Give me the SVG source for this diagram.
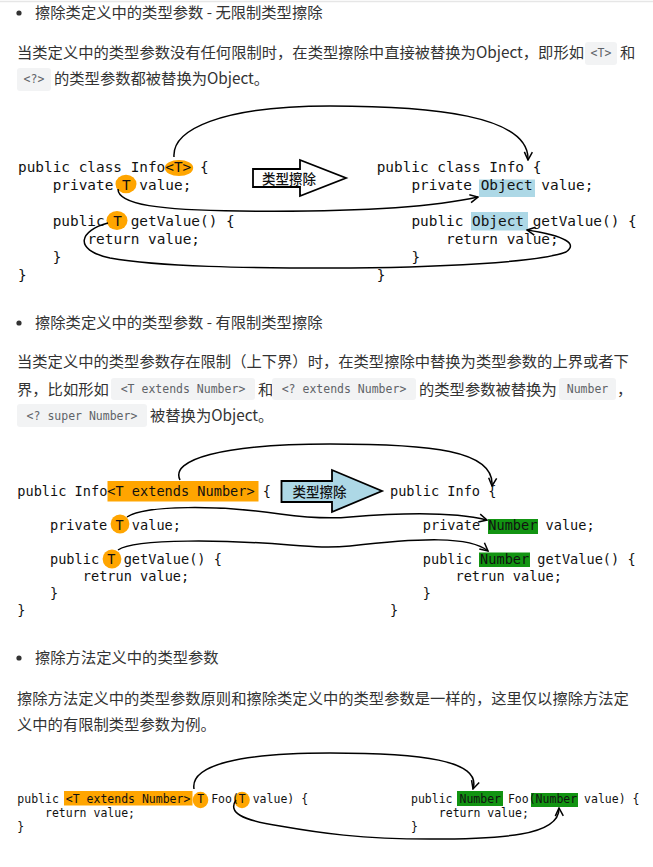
<svg xmlns="http://www.w3.org/2000/svg" width="653" height="867" viewBox="0 0 653 867">
<defs>
<style>
.p{font-family:"Noto Sans CJK SC","Noto Sans",sans-serif;font-size:15.3px;fill:#333}
.chip{fill:#f2f3f4}
.ct{font-family:"DejaVu Sans Mono","Liberation Mono",monospace;font-size:11.5px;fill:#5f6368;text-anchor:middle}
.c1{font-family:"DejaVu Sans Mono",monospace;font-size:14.4px;fill:#111}
.c2{font-family:"DejaVu Sans Mono",monospace;font-size:13.6px;fill:#111}
.c3{font-family:"DejaVu Sans Mono",monospace;font-size:11.5px;fill:#111}
.or{fill:#ffa500}
.bl{fill:#add8e6}
.gr{fill:#129412}
.ba{stroke:#000;stroke-width:1.8;stroke-linejoin:miter}
.bt{font-family:"Noto Sans CJK SC",sans-serif;font-size:13.5px;fill:#111;font-weight:500}
.cn{fill:none;stroke:#000;stroke-width:1.5;marker-end:url(#ah)}
</style>
<marker id="ah" viewBox="0 0 10 10" refX="9" refY="5" markerWidth="10" markerHeight="10" markerUnits="userSpaceOnUse" orient="auto">
<path d="M1,1 L9,5 L1,9" fill="none" stroke="#000" stroke-width="1.5"/>
</marker>
</defs>
<rect width="653" height="867" fill="#fff"/>
<line x1="0" y1="1.5" x2="653" y2="1.5" stroke="#e6e6e6" stroke-width="1.5"/>

<g id="section1-text">
<circle cx="19" cy="13" r="2.6" fill="#333"/>
<text class="p" x="35" y="18">擦除类定义中的类型参数 - 无限制类型擦除</text>
<text class="p" x="17" y="58">当类定义中的类型参数没有任何限制时，在类型擦除中直接被替换为Object，即形如</text>
<rect class="chip" x="585" y="42" width="32" height="23" rx="3"/>
<text class="ct" x="601" y="57">&lt;T&gt;</text>
<text class="p" x="620" y="58">和</text>
<rect class="chip" x="17" y="68" width="34" height="23" rx="3"/>
<text class="ct" x="34" y="83">&lt;?&gt;</text>
<text class="p" x="54" y="84">的类型参数都被替换为Object。</text>
</g>

<g id="diagram1-left">
<ellipse class="or" cx="179" cy="168" rx="14.2" ry="8"/>
<ellipse class="or" cx="126" cy="184" rx="10.5" ry="9.3"/>
<ellipse class="or" cx="117" cy="220.5" rx="10.5" ry="9.5"/>
<text class="c1" x="18" y="172">public class Info&lt;T&gt; {</text>
<text class="c1" x="52.7" y="190">private T value;</text>
<text class="c1" x="52.7" y="226">public T getValue() {</text>
<text class="c1" x="87.4" y="244">return value;</text>
<text class="c1" x="52.7" y="262">}</text>
<text class="c1" x="18" y="280">}</text>
</g>
<g id="diagram1-arrow">
<polygon class="ba" fill="#fff" points="253,169 300,169 300,160 346,178 300,196 300,187 253,187"/>
<text class="bt" x="262" y="183.5">类型擦除</text>
</g>
<g id="diagram1-right">
<rect class="bl" x="479" y="179.5" width="56" height="17.5"/>
<rect class="bl" x="471" y="212" width="57" height="18.5"/>
<text class="c1" x="376.7" y="172">public class Info {</text>
<text class="c1" x="411.4" y="190">private Object value;</text>
<text class="c1" x="411.4" y="226">public Object getValue() {</text>
<text class="c1" x="446" y="244">return value;</text>
<text class="c1" x="411.4" y="262">}</text>
<text class="c1" x="376.7" y="280">}</text>
</g>

<g id="section2-text">
<circle cx="19" cy="323" r="2.6" fill="#333"/>
<text class="p" x="35" y="328">擦除类定义中的类型参数 - 有限制类型擦除</text>
<text class="p" x="17" y="367">当类定义中的类型参数存在限制（上下界）时，在类型擦除中替换为类型参数的上界或者下</text>
<text class="p" x="17" y="395">界，比如形如</text>
<rect class="chip" x="111" y="378" width="144" height="22" rx="3"/>
<text class="ct" x="183" y="393">&lt;T extends Number&gt;</text>
<text class="p" x="258" y="395">和</text>
<rect class="chip" x="272" y="378" width="144" height="22" rx="3"/>
<text class="ct" x="344" y="393">&lt;? extends Number&gt;</text>
<text class="p" x="419" y="395">的类型参数被替换为</text>
<rect class="chip" x="559" y="378" width="57" height="22" rx="3"/>
<text class="ct" x="587.5" y="393">Number</text>
<text class="p" x="617" y="395">，</text>
<rect class="chip" x="17" y="404" width="130" height="23" rx="3"/>
<text class="ct" x="82" y="419.5">&lt;? super Number&gt;</text>
<text class="p" x="150" y="421">被替换为Object。</text>
</g>

<g id="diagram2-left">
<rect class="or" x="107.5" y="481" width="151" height="20.5"/>
<circle class="or" cx="120" cy="524" r="9.4"/>
<circle class="or" cx="112" cy="559" r="9.4"/>
<text class="c2" x="17.3" y="496">public Info&lt;T extends Number&gt; {</text>
<text class="c2" x="50" y="530">private T value;</text>
<text class="c2" x="50" y="564">public T getValue() {</text>
<text class="c2" x="82.8" y="581">retrun value;</text>
<text class="c2" x="50" y="598">}</text>
<text class="c2" x="17.3" y="615">}</text>
</g>
<g id="diagram2-arrow">
<polygon class="ba" fill="#add8e6" points="281.5,481 332,481 332,470 382,491 332,512 332,502 281.5,502"/>
<text class="bt" x="292.5" y="496.5">类型擦除</text>
</g>
<g id="diagram2-right">
<rect class="gr" x="488" y="519" width="50" height="15"/>
<rect class="gr" x="479" y="552.5" width="51" height="14.5"/>
<text class="c2" x="390" y="496">public Info {</text>
<text class="c2" x="422.8" y="530">private Number value;</text>
<text class="c2" x="422.8" y="564">public Number getValue() {</text>
<text class="c2" x="455.5" y="581">retrun value;</text>
<text class="c2" x="422.8" y="598">}</text>
<text class="c2" x="390" y="615">}</text>
</g>

<g id="section3-text">
<circle cx="19" cy="658" r="2.6" fill="#333"/>
<text class="p" x="35" y="663">擦除方法定义中的类型参数</text>
<text class="p" x="17" y="704">擦除方法定义中的类型参数原则和擦除类定义中的类型参数是一样的，这里仅以擦除方法定</text>
<text class="p" x="17" y="730">义中的有限制类型参数为例。</text>
</g>

<g id="diagram3-left">
<rect class="or" x="64" y="791" width="128.5" height="14.5"/>
<ellipse class="or" cx="200.5" cy="800" rx="7.8" ry="8.3"/>
<ellipse class="or" cx="242" cy="800" rx="7.8" ry="8.3"/>
<text class="c3" x="17.3" y="803">public &lt;T extends Number&gt; T Foo(T value) {</text>
<text class="c3" x="45" y="817">return value;</text>
<text class="c3" x="17.3" y="831">}</text>
</g>
<g id="diagram3-right">
<rect class="gr" x="457" y="791" width="46" height="15"/>
<rect class="gr" x="531" y="793" width="47" height="14"/>
<text class="c3" x="411" y="803">public Number Foo(Number value) {</text>
<text class="c3" x="438.8" y="817">return value;</text>
<text class="c3" x="411" y="831">}</text>
</g>

<g id="connectors">
<path class="cn" d="M174,157 C172,130 220,106 330,106 C430,106 530,115 528,160"/>
<path class="cn" d="M118,189 C118,205 160,210 240,211 C330,212 420,210 478,197"/>
<path class="cn" d="M108,223 C80,230 72,250 110,258 C160,267 250,268 330,268 C440,268 540,262 566,252 C578,244 566,236 527,230"/>
<path class="cn" d="M180,480 C170,460 220,444 330,444 C430,444 495,450 492,486"/>
<path class="cn" d="M127,517 C145,505 220,505 280,514 C310,518 330,519 350,517 C410,512 455,512 487,520"/>
<path class="cn" d="M118,550 C135,538 230,540 290,545 C315,547 330,548 350,546 C420,538 470,536 488,551"/>
<path class="cn" d="M194,789 C190,765 240,753 330,753 C420,753 482,760 473,789"/>
<path class="cn" d="M236,800 C228,812 240,820 280,826 C320,833 360,839 430,839 C500,839 560,836 559,808"/>
</g>
</svg>
